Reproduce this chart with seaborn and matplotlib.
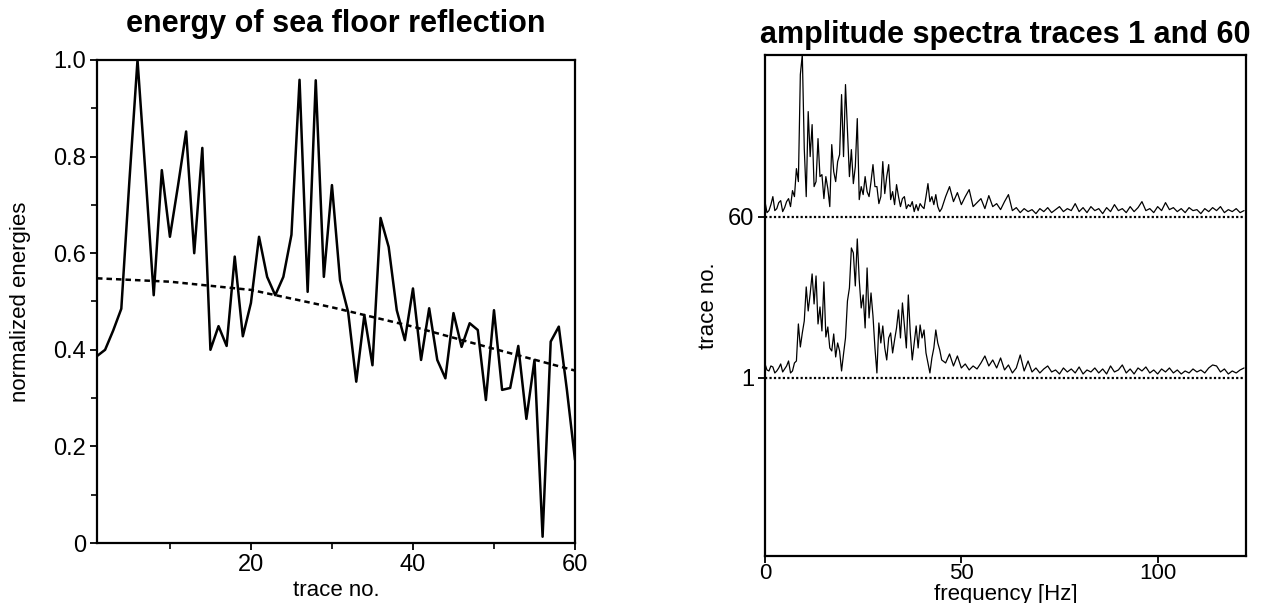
import numpy as np
import pandas as pd
import matplotlib
matplotlib.use("Agg")
import matplotlib.pyplot as plt
import seaborn as sns
from matplotlib.ticker import MultipleLocator

# ---------------- data: left panel ----------------
trace_no = list(range(1, 61))
energies = [0.387, 0.40, 0.44, 0.485, 0.75, 1.0, 0.76, 0.513, 0.772, 0.634,
            0.74, 0.852, 0.600, 0.818, 0.40, 0.449, 0.408, 0.593, 0.428, 0.497,
            0.634, 0.551, 0.513, 0.551, 0.638, 0.959, 0.52, 0.958, 0.551, 0.741,
            0.544, 0.478, 0.334, 0.472, 0.368, 0.673, 0.613, 0.482, 0.420, 0.527,
            0.379, 0.486, 0.379, 0.341, 0.476, 0.406, 0.455, 0.441, 0.296, 0.482,
            0.317, 0.321, 0.408, 0.257, 0.379, 0.013, 0.417, 0.448, 0.317, 0.172]
trend_traces = [1, 10, 20, 30, 40, 50, 60]
trend_values = [0.548, 0.541, 0.524, 0.488, 0.448, 0.402, 0.357]

# ---------------- data: right panel ----------------
freq_lo = np.arange(0, 45, 0.5)
freq_hi = np.arange(45, 123, 1.0)
frequency = np.concatenate([freq_lo, freq_hi])

amp60_lo = [15, 4, 6, 12, 20, 6, 8, 14, 16, 5,
            9, 15, 18, 10, 26, 20, 48, 35, 142, 162,
            68, 20, 105, 60, 92, 30, 35, 78, 40, 42,
            18, 40, 28, 10, 72, 45, 35, 55, 62, 122,
            60, 132, 85, 40, 67, 33, 50, 98, 17, 30,
            22, 40, 25, 20, 35, 52, 30, 30, 13, 20,
            55, 23, 40, 52, 17, 25, 12, 32, 20, 10,
            18, 20, 8, 12, 10, 15, 5, 12, 6, 13,
            10, 8, 20, 33, 15, 20, 12, 22, 10, 5]
amp60_hi = [8, 20, 30, 15, 24, 12, 20, 27, 10, 14,
            18, 8, 21, 10, 13, 7, 15, 22, 6, 9,
            4, 8, 5, 7, 3, 8, 5, 9, 4, 7,
            10, 5, 8, 6, 13, 5, 9, 4, 10, 6,
            8, 3, 9, 5, 12, 6, 8, 4, 10, 5,
            9, 15, 6, 8, 4, 10, 6, 14, 7, 9,
            5, 8, 4, 9, 6, 7, 3, 8, 5, 9,
            6, 10, 4, 7, 5, 8, 4, 6]
amp1_lo = [14, 8, 7, 12, 11, 5, 7, 10, 14, 6,
           9, 12, 17, 5, 7, 15, 17, 54, 31, 45,
           57, 91, 67, 84, 104, 74, 102, 54, 71, 47,
           96, 41, 51, 30, 27, 44, 21, 35, 27, 7,
           24, 40, 77, 90, 130, 125, 92, 139, 98, 70,
           83, 50, 110, 60, 85, 62, 30, 5, 55, 35,
           52, 30, 18, 40, 45, 25, 38, 50, 68, 40,
           75, 52, 30, 83, 45, 18, 35, 52, 30, 53,
           40, 48, 25, 15, 5, 20, 30, 48, 35, 28]
amp1_hi = [18, 15, 24, 12, 22, 10, 14, 8, 12, 9,
           15, 22, 12, 18, 10, 20, 8, 13, 5, 10,
           23, 7, 17, 6, 10, 5, 9, 12, 6, 8,
           4, 10, 6, 9, 5, 11, 4, 8, 6, 10,
           5, 9, 4, 12, 6, 8, 13, 5, 9, 4,
           10, 7, 11, 5, 8, 4, 9, 6, 10, 5,
           8, 4, 7, 5, 9, 6, 8, 5, 10, 13,
           12, 6, 9, 4, 7, 5, 8, 10]
spectra_traces = [1, 60]
amp_scale = 1 / 2.734   # relative amplitude -> trace-number units

# ---------------- style ----------------
sns.set_style("ticks")
plt.rcParams['font.family'] = ['Liberation Sans', 'DejaVu Sans']
plt.rcParams.update({"text.color": "black", "axes.labelcolor": "black",
                     "xtick.color": "black", "ytick.color": "black"})

fig = plt.figure(figsize=(12.72, 6.03), dpi=100)

# ---------------- left panel ----------------
ax1 = fig.add_axes([97 / 1272, 1 - 543 / 603, (575 - 97) / 1272, (543 - 60) / 603])
df_e = pd.DataFrame({"trace": trace_no, "energy": energies})
sns.lineplot(data=df_e, x="trace", y="energy", ax=ax1, color="black",
             linewidth=1.8, estimator=None, sort=False)
df_t = pd.DataFrame({"trace": trend_traces, "energy": trend_values})
sns.lineplot(data=df_t, x="trace", y="energy", ax=ax1, color="black",
             linewidth=1.8, estimator=None, sort=False)
ax1.lines[-1].set_dashes([2.2, 1.6])
ax1.set_xlim(1, 60)
ax1.set_ylim(0, 1.0)
ax1.set_xticks([20, 40, 60])
ax1.xaxis.set_minor_locator(MultipleLocator(10))
ax1.set_yticks([0, 0.2, 0.4, 0.6, 0.8, 1.0])
ax1.set_yticklabels(["0", "0.2", "0.4", "0.6", "0.8", "1.0"])
ax1.yaxis.set_minor_locator(MultipleLocator(0.1))
ax1.set_xlabel("trace no.", fontsize=16, labelpad=3)
ax1.set_ylabel("normalized energies", fontsize=16, labelpad=16)
ax1.set_title("energy of sea floor reflection", fontsize=22, fontweight="bold", pad=20)

# ---------------- right panel ----------------
ax2 = fig.add_axes([765 / 1272, 1 - 556 / 603, (1246 - 765) / 1272, (556 - 55) / 603])
amps = {1: np.array(amp1_lo + amp1_hi), 60: np.array(amp60_lo + amp60_hi)}
for tr in spectra_traces:
    df_s = pd.DataFrame({"f": frequency, "y": tr + amps[tr] * amp_scale})
    sns.lineplot(data=df_s, x="f", y="y", ax=ax2, color="black",
                 linewidth=0.9, estimator=None, sort=False)
    ax2.axhline(tr, color="black", linestyle=(0, (1, 1)), linewidth=1.6)
ax2.set_xlim(0, 122.5)
ax2.set_ylim(-64.1, 119.1)
ax2.set_xticks([0, 50, 100])
ax2.set_yticks(spectra_traces)
ax2.set_yticklabels([str(t) for t in spectra_traces])
ax2.set_xlabel("frequency [Hz]", fontsize=16, labelpad=0)
ax2.set_ylabel("trace no.", fontsize=16, labelpad=6)
ax2.set_title("amplitude spectra traces 1 and 60", fontsize=22, fontweight="bold", pad=9)

for ax in (ax1, ax2):
    for sp in ax.spines.values():
        sp.set_visible(True)
        sp.set_linewidth(1.6)
        sp.set_color("black")
    ax.tick_params(which="major", direction="out", length=5, width=1.3,
                   labelsize=17, colors="black", pad=3)
    ax.tick_params(which="minor", direction="out", length=4, width=1.2)
    ax.set_facecolor("white")
ax2.tick_params(axis="x", pad=0, labelsize=16)

fig.savefig("out.png", dpi=100, facecolor="white")
